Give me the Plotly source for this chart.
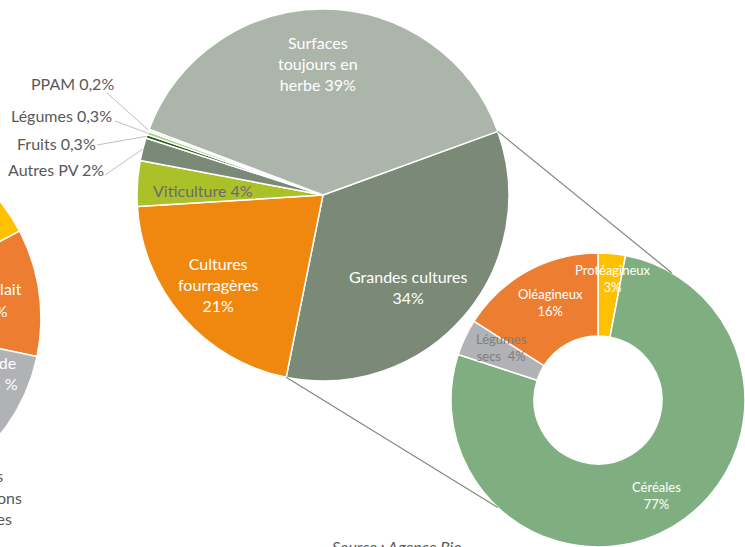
import numpy as np
import plotly.graph_objects as go

W, H = 745, 547

# main pie: organic surfaces by production
main_labels = ["Grandes cultures", "Cultures fourragères", "Viticulture", "Autres PV",
               "Fruits", "Légumes", "PPAM", "Surfaces toujours en herbe"]
main_values = [34, 21, 4, 2, 0.3, 0.3, 0.2, 39]
main_colors = ["#7b8a76", "#f0880f", "#abc12a", "#7b8a76",
               "#2e5b1c", "#a9d18e", "#dcebd2", "#abb5aa"]

# donut: detail of "Grandes cultures"
gc_labels = ["Protéagineux", "Céréales", "Légumes secs", "Oléagineux"]
gc_values = [3, 77, 4, 16]
gc_colors = ["#ffc000", "#7faf80", "#b1b2b5", "#ed7d31"]

# partial pie cut by the left edge (previous chart)
left_labels = ["Ovins, caprins", "Bovins lait", "Bovins viande", "Autres productions animales"]
left_values = [10, 11, 16, 63]
left_colors = ["#ffc000", "#ed7d31", "#b1b2b5", "#a5a5a5"]


def fmt(v):
    return f"{v:g}".replace(".", ",")


# geometry (pixels)
MAIN_C, MAIN_R, MAIN_ROT = (323, 195), 186, 70
GC_BOX = (451, 253, 745, 547)
LEFT_C, LEFT_R, LEFT_ROT = (-146, 318), 187, 26.3

fig = go.Figure()

# left partial pie, drawn as wedges on a pixel axis
total = sum(left_values)
a0 = LEFT_ROT
for lab, v, c in zip(left_labels, left_values, left_colors):
    a1 = a0 + v / total * 360
    t = np.radians(np.linspace(a0, a1, 80))
    xs = np.r_[LEFT_C[0], LEFT_C[0] + LEFT_R * np.sin(t), LEFT_C[0]]
    ys = np.r_[LEFT_C[1], LEFT_C[1] - LEFT_R * np.cos(t), LEFT_C[1]]
    fig.add_trace(go.Scatter(x=xs, y=ys, fill="toself", fillcolor=c, mode="lines",
                             line=dict(color="white", width=1.5), name=lab,
                             hoverinfo="name", showlegend=False))
    a0 = a1

fig.add_trace(go.Pie(
    labels=main_labels, values=main_values, sort=False, direction="clockwise",
    rotation=MAIN_ROT, textinfo="none", showlegend=False,
    marker=dict(colors=main_colors, line=dict(color="white", width=1.5)),
    domain=dict(x=[(MAIN_C[0] - MAIN_R) / W, (MAIN_C[0] + MAIN_R) / W],
                y=[1 - (MAIN_C[1] + MAIN_R) / H, 1 - (MAIN_C[1] - MAIN_R) / H]),
))

fig.add_trace(go.Pie(
    labels=gc_labels, values=gc_values, sort=False, direction="clockwise",
    rotation=0, hole=0.435, textinfo="none", showlegend=False,
    marker=dict(colors=gc_colors, line=dict(color="white", width=1.5)),
    domain=dict(x=[GC_BOX[0] / W, GC_BOX[2] / W],
                y=[1 - GC_BOX[3] / H, 1 - GC_BOX[1] / H]),
))

# slice boundary / mid angles of the main pie from the data
mtot = sum(main_values)
cum = np.cumsum([0] + main_values) / mtot * 360 + MAIN_ROT


def main_pt(angle, r=MAIN_R):
    a = np.radians(angle)
    return MAIN_C[0] + r * np.sin(a), MAIN_C[1] - r * np.cos(a)


gc_cx = (GC_BOX[0] + GC_BOX[2]) / 2
gc_cy = (GC_BOX[1] + GC_BOX[3]) / 2
gc_r = (GC_BOX[2] - GC_BOX[0]) / 2


def gc_pt(angle):
    a = np.radians(angle)
    return gc_cx + gc_r * np.sin(a), gc_cy - gc_r * np.cos(a)


shapes = []
# connectors from "Grandes cultures" to the donut
for pa, da in [(cum[0], 30.2), (cum[1], 223)]:
    x0, y0 = main_pt(pa)
    x1, y1 = gc_pt(da)
    shapes.append(dict(type="line", xref="x", yref="y", x0=x0, y0=y0, x1=x1, y1=y1,
                       line=dict(color="#7f8a7c", width=1.2)))

# leader lines for the small slices
leader_start = {"Autres PV": (105, 175), "Fruits": (97, 145),
                "Légumes": (115, 121), "PPAM": (107, 93)}
for i, lab in enumerate(main_labels):
    if lab in leader_start:
        x1, y1 = main_pt((cum[i] + cum[i + 1]) / 2)
        x0, y0 = leader_start[lab]
        shapes.append(dict(type="line", xref="x", yref="y", x0=x0, y0=y0, x1=x1, y1=y1,
                           line=dict(color="#bfbfbf", width=1)))

FONT = "Lato"
annotations = []


def note(text, x, y, size=16, color="white", xanchor="center", yanchor="middle"):
    annotations.append(dict(text=text, x=x, y=y, xref="x", yref="y", showarrow=False,
                            xanchor=xanchor, yanchor=yanchor,
                            font=dict(family=FONT, size=size, color=color)))


wraps = {"Grandes cultures": "Grandes cultures<br>",
         "Cultures fourragères": "Cultures<br>fourragères<br>",
         "Surfaces toujours en herbe": "Surfaces<br>toujours en<br>herbe ",
         "Légumes secs": "Légumes<br>secs  ",
         "Protéagineux": "Protéagineux<br>",
         "Oléagineux": "Oléagineux<br>",
         "Céréales": "Céréales<br>"}

main_pos = {"Grandes cultures": (408, 287, "white", "center"),
            "Cultures fourragères": (218, 284, "white", "center"),
            "Viticulture": (203, 190, "#6b6b6b", "center"),
            "Surfaces toujours en herbe": (318, 63, "white", "center"),
            "Autres PV": (106, 169, "#595959", "right"),
            "Fruits": (98, 143, "#595959", "right"),
            "Légumes": (114, 115, "#595959", "right"),
            "PPAM": (116, 83, "#595959", "right")}
for lab, v in zip(main_labels, main_values):
    x, y, col, xa = main_pos[lab]
    note(wraps.get(lab, lab + " ") + fmt(v) + "%", x, y, color=col, xanchor=xa)

gc_pos = {"Protéagineux": (613, 278, "white"), "Céréales": (656, 495, "white"),
          "Légumes secs": (501, 347, "#7f7f7f"), "Oléagineux": (550, 302, "white")}
for lab, v in zip(gc_labels, gc_values):
    x, y, col = gc_pos[lab]
    note(wraps[lab] + fmt(v) + "%", x, y, size=13, color=col)

# labels of the cut pie, right parts only visible
note(left_labels[1].split(", ")[0], 24, 288, size=16, xanchor="right")
note(fmt(left_values[1]) + " %", 10, 310, size=16, xanchor="right")
note(left_labels[2], 18, 362, size=16, xanchor="right")
note(fmt(left_values[2]) + " %", 20, 383, size=16, xanchor="right")
for word, x, y in zip(left_labels[3].split(" "), [5, 24, 14], [475, 497, 518]):
    note(word, x, y, size=16, color="#595959", xanchor="right")

note("<i>Source : Agence Bio</i>", 330, 535, size=16, color="#595959",
     xanchor="left", yanchor="top")

fig.update_layout(
    width=W, height=H, margin=dict(l=0, r=0, t=0, b=0),
    paper_bgcolor="white", plot_bgcolor="white",
    xaxis=dict(range=[0, W], visible=False, fixedrange=True),
    yaxis=dict(range=[H, 0], visible=False, fixedrange=True),
    shapes=shapes, annotations=annotations, showlegend=False,
)

# drop the default page margin so the figure sits at the window's corner
fig.write_html("out.html", config={"displayModeBar": False},
               post_script="document.body.style.margin = '0px';")
